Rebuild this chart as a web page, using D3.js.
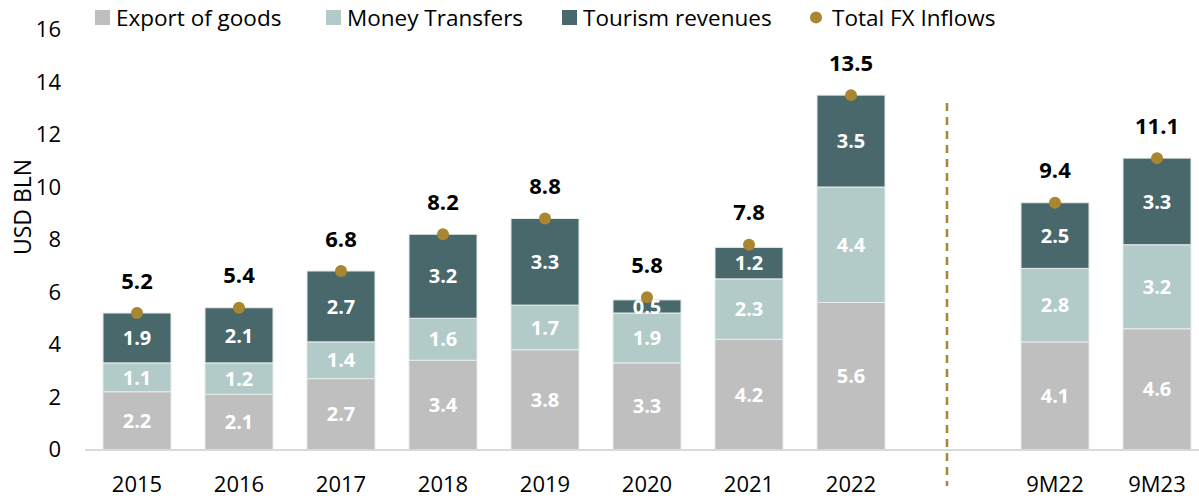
<!DOCTYPE html>
<html>
<head>
<meta charset="utf-8">
<style>
  body { margin: 0; background: #fff; }
  svg { display: block; font-family: "Open Sans", "Noto Sans", sans-serif; }
</style>
</head>
<body>
<svg width="1199" height="498"></svg>
<script src="https://d3js.org/d3.v7.min.js"></script>
<script>
// categories ("" is the blank slot before the 9M figures)
var categories = ["2015", "2016", "2017", "2018", "2019", "2020", "2021", "2022", "", "9M22", "9M23"];
var exportGoods = [2.2, 2.1, 2.7, 3.4, 3.8, 3.3, 4.2, 5.6, null, 4.1, 4.6];
var moneyTransfers = [1.1, 1.2, 1.4, 1.6, 1.7, 1.9, 2.3, 4.4, null, 2.8, 3.2];
var tourism = [1.9, 2.1, 2.7, 3.2, 3.3, 0.5, 1.2, 3.5, null, 2.5, 3.3];
var totalFX = [5.2, 5.4, 6.8, 8.2, 8.8, 5.8, 7.8, 13.5, null, 9.4, 11.1];
var yTicks = [0, 2, 4, 6, 8, 10, 12, 14, 16];

var seriesNames = ["Export of goods", "Money Transfers", "Tourism revenues"];
var colors = ["#bfbfbf", "#b2cbc8", "#48686c"];
var dotColor = "#a98630";

var svg = d3.select("svg"),
    width = +svg.attr("width"),
    height = +svg.attr("height");

var x = d3.scaleBand()
    .domain(categories)
    .range([86, 1208])
    .paddingInner(1 / 3)
    .paddingOuter(1 / 6);

var y = d3.scaleLinear()
    .domain([0, 16])
    .range([449.5, 29.5]);

// build rows for the stack
var rows = categories.map(function(c, i) {
  return { cat: c, "Export of goods": exportGoods[i], "Money Transfers": moneyTransfers[i], "Tourism revenues": tourism[i] };
}).filter(function(d) { return d.cat !== ""; });

var stack = d3.stack().keys(seriesNames)(rows);

// y axis labels only
var yAxis = svg.append("g")
    .attr("transform", "translate(61,0)")
    .call(d3.axisLeft(y).tickValues(yTicks).tickSize(0).tickPadding(0));
yAxis.select(".domain").remove();
yAxis.selectAll("text")
    .attr("font-size", 22)
    .attr("fill", "#000")
    .style("font-family", "'Open Sans', sans-serif");

svg.append("text")
    .attr("transform", "translate(31," + 207 + ")rotate(-90)")
    .attr("text-anchor", "middle")
    .attr("font-size", 23)
    .text("USD BLN");

// bars
var layer = svg.append("g").selectAll("g")
  .data(stack)
  .enter().append("g")
    .attr("fill", function(d, i) { return colors[i]; });

layer.selectAll("rect")
  .data(function(d) { return d; })
  .enter().append("rect")
    .attr("x", function(d) { return x(d.data.cat); })
    .attr("width", x.bandwidth())
    .attr("y", function(d) { return y(d[1]); })
    .attr("height", function(d) { return y(d[0]) - y(d[1]); })
    .attr("stroke", "#e6ecec")
    .attr("stroke-width", 1);

// segment labels
layer.selectAll("text")
  .data(function(d) { return d; })
  .enter().append("text")
    .attr("x", function(d) { return x(d.data.cat) + x.bandwidth() / 2; })
    .attr("y", function(d) { return y((d[0] + d[1]) / 2); })
    .attr("dy", "0.36em")
    .attr("text-anchor", "middle")
    .attr("font-size", 20)
    .attr("font-weight", "bold")
    .attr("fill", "#fff")
    .text(function(d) { return (d[1] - d[0]).toFixed(1); });

// baseline
svg.append("line")
    .attr("x1", 85).attr("x2", width)
    .attr("y1", y(0) + 0.5).attr("y2", y(0) + 0.5)
    .attr("stroke", "#d9d9d9")
    .attr("stroke-width", 2);

// x labels
svg.append("g").selectAll("text")
  .data(categories.filter(function(c) { return c !== ""; }))
  .enter().append("text")
    .attr("x", function(d) { return x(d) + x.bandwidth() / 2; })
    .attr("y", 492)
    .attr("text-anchor", "middle")
    .attr("font-size", 22)
    .text(function(d) { return d; });

// dashed divider
var divX = x("") + x.bandwidth() / 2 - 6;
svg.append("line")
    .attr("x1", divX).attr("x2", divX)
    .attr("y1", 103).attr("y2", 486)
    .attr("stroke", dotColor)
    .attr("stroke-width", 2.5)
    .attr("stroke-dasharray", "8,6");

// totals
var totals = categories.map(function(c, i) { return { cat: c, v: totalFX[i] }; })
  .filter(function(d) { return d.v != null; });

svg.append("g").selectAll("circle")
  .data(totals)
  .enter().append("circle")
    .attr("cx", function(d) { return x(d.cat) + x.bandwidth() / 2; })
    .attr("cy", function(d) { return y(d.v); })
    .attr("r", 6)
    .attr("fill", dotColor);

svg.append("g").selectAll("text")
  .data(totals)
  .enter().append("text")
    .attr("x", function(d) { return x(d.cat) + x.bandwidth() / 2; })
    .attr("y", function(d) { return y(d.v) - 24.5; })
    .attr("text-anchor", "middle")
    .attr("font-size", 22)
    .attr("font-weight", "bold")
    .text(function(d) { return d.v.toFixed(1); });

// legend
var legendItems = [
  { name: "Export of goods", color: colors[0], x: 95, type: "rect" },
  { name: "Money Transfers", color: colors[1], x: 326, type: "rect" },
  { name: "Tourism revenues", color: colors[2], x: 562, type: "rect" },
  { name: "Total FX Inflows", color: dotColor, x: 809, type: "dot" }
];
var legend = svg.append("g").selectAll("g")
  .data(legendItems)
  .enter().append("g")
    .attr("transform", function(d) { return "translate(" + d.x + ",10)"; });

legend.filter(function(d) { return d.type === "rect"; }).append("rect")
    .attr("width", 15).attr("height", 15)
    .attr("fill", function(d) { return d.color; });
legend.filter(function(d) { return d.type === "dot"; }).append("circle")
    .attr("cx", 7).attr("cy", 7.5).attr("r", 6)
    .attr("fill", function(d) { return d.color; });
legend.append("text")
    .attr("x", function(d) { return d.type === "dot" ? 23 : 21; })
    .attr("y", 7.5)
    .attr("dy", "0.36em")
    .attr("font-size", 22.5)
    .text(function(d) { return d.name; });
</script>
</body>
</html>
